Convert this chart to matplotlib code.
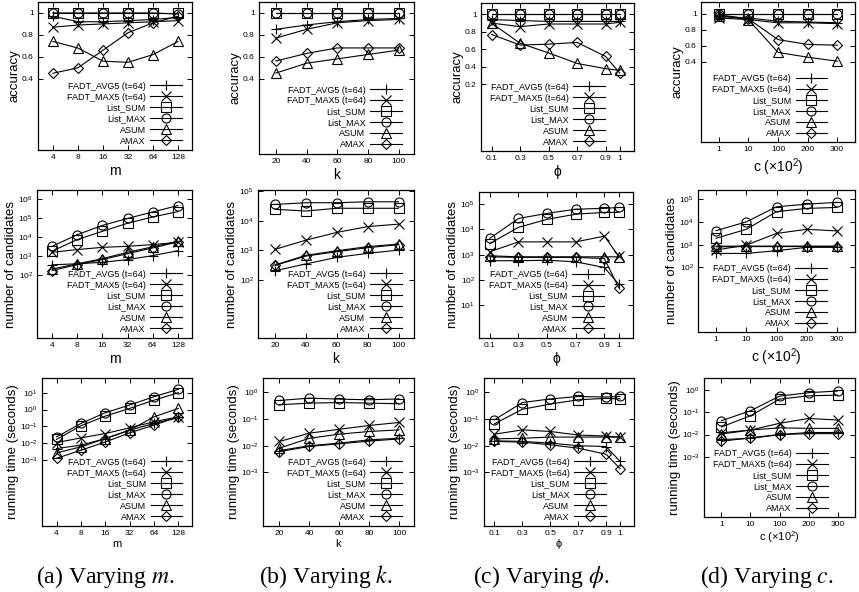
import matplotlib
matplotlib.use("Agg")
import matplotlib.pyplot as plt
from matplotlib.ticker import NullLocator, LogFormatterMathtext

plt.rcParams["font.family"] = ["Liberation Sans", "DejaVu Sans"]
plt.rcParams["mathtext.fontset"] = "custom"
plt.rcParams["mathtext.rm"] = "Liberation Sans"
plt.rcParams["mathtext.it"] = "Liberation Sans:italic"

# ---------------------------------------------------------------- data ----
SERIES = ["FADT_AVG5 (t=64)", "FADT_MAX5 (t=64)", "List_SUM", "List_MAX", "ASUM", "AMAX"]
MARKERS = ["+", "x", "s", "o", "^", "D"]

m_vals = [4, 8, 16, 32, 64, 128]
k_vals = [20, 40, 60, 80, 100]
phi_vals = [0.1, 0.3, 0.5, 0.7, 0.9, 1.0]
c_labels = ["1", "10", "100", "200", "300"]

# accuracy
acc_m = [
    [0.97, 0.92, 0.92, 0.93, 0.94, 0.96],
    [0.87, 0.89, 0.90, 0.91, 0.92, 0.93],
    [1.0, 1.0, 1.0, 1.0, 1.0, 1.0],
    [1.0, 1.0, 1.0, 1.0, 1.0, 0.99],
    [0.74, 0.68, 0.56, 0.55, 0.62, 0.74],
    [0.45, 0.50, 0.66, 0.82, 0.91, 0.97],
]
acc_k = [
    [0.85, 0.89, 0.92, 0.94, 0.95],
    [0.77, 0.85, 0.91, 0.93, 0.94],
    [1.0, 1.0, 1.0, 1.0, 1.0],
    [1.0, 1.0, 1.0, 1.0, 1.0],
    [0.45, 0.54, 0.58, 0.62, 0.66],
    [0.56, 0.63, 0.68, 0.68, 0.68],
]
acc_phi = [
    [0.94, 0.93, 0.92, 0.92, 0.92, 0.92],
    [0.90, 0.86, 0.89, 0.89, 0.89, 0.91],
    [1.0, 1.0, 1.0, 1.0, 1.0, 1.0],
    [1.0, 1.0, 1.0, 1.0, 1.0, 1.0],
    [0.90, 0.67, 0.56, 0.44, 0.38, 0.36],
    [0.77, 0.65, 0.66, 0.68, 0.52, 0.33],
]
acc_c = [
    [0.97, 0.95, 0.91, 0.90, 0.89],
    [0.95, 0.93, 0.89, 0.89, 0.88],
    [1.0, 1.0, 1.0, 1.0, 1.0],
    [1.0, 1.0, 1.0, 1.0, 1.0],
    [0.98, 0.93, 0.52, 0.46, 0.41],
    [0.99, 0.94, 0.68, 0.62, 0.61],
]

# number of candidates
cand_m = [
    [360, 410, 490, 680, 1100, 2000],
    [1650, 2300, 3000, 3400, 4200, 5500],
    [1900, 7700, 21000, 56000, 120000, 230000],
    [3400, 14000, 43000, 100000, 220000, 480000],
    [215, 410, 760, 1650, 3200, 6300],
    [180, 370, 680, 1400, 2800, 5800],
]
cand_k = [
    [205, 350, 580, 790, 1020],
    [1080, 2200, 4000, 6300, 7600],
    [24000, 21000, 26000, 26000, 26000],
    [35000, 40000, 40000, 43000, 43000],
    [320, 680, 970, 1330, 1630],
    [310, 640, 900, 1230, 1550],
]
cand_phi = [
    [575, 575, 600, 520, 310, 68],
    [1300, 3200, 3200, 3200, 5400, 870],
    [2750, 12000, 25000, 40000, 47000, 47000],
    [4400, 27000, 43000, 63000, 68000, 74000],
    [900, 820, 820, 820, 820, 820],
    [820, 780, 780, 780, 700, 50],
]
cand_c = [
    [410, 410, 540, 760, 760],
    [580, 950, 3100, 4700, 4000],
    [1900, 4700, 28000, 39000, 43000],
    [4100, 10000, 46000, 60000, 72000],
    [850, 860, 860, 860, 860],
    [800, 820, 820, 820, 820],
]

# running time (seconds)
time_m = [
    [0.0049, 0.0078, 0.019, 0.06, 0.15, 0.34],
    [0.011, 0.021, 0.038, 0.083, 0.19, 0.37],
    [0.017, 0.11, 0.41, 1.17, 3.6, 10.0],
    [0.024, 0.15, 0.65, 1.85, 5.8, 15.8],
    [0.0027, 0.0062, 0.019, 0.06, 0.37, 1.17],
    [0.0013, 0.0039, 0.012, 0.042, 0.12, 0.37],
]
time_k = [
    [0.0066, 0.010, 0.0125, 0.0166, 0.019],
    [0.0144, 0.0295, 0.041, 0.057, 0.074],
    [0.34, 0.39, 0.41, 0.39, 0.37],
    [0.49, 0.60, 0.55, 0.52, 0.56],
    [0.0081, 0.019, 0.027, 0.034, 0.039],
    [0.006, 0.0094, 0.0118, 0.0148, 0.018],
]
time_phi = [
    [0.0152, 0.0145, 0.0125, 0.010, 0.0093, 0.0026],
    [0.027, 0.039, 0.034, 0.025, 0.023, 0.021],
    [0.066, 0.23, 0.36, 0.52, 0.59, 0.56],
    [0.093, 0.41, 0.56, 0.69, 0.66, 0.69],
    [0.018, 0.019, 0.021, 0.021, 0.021, 0.021],
    [0.0145, 0.0136, 0.0108, 0.0081, 0.0048, 0.0014],
]
time_c = [
    [0.006, 0.0067, 0.010, 0.0124, 0.0124],
    [0.012, 0.016, 0.032, 0.053, 0.045],
    [0.022, 0.07, 0.39, 0.55, 0.59],
    [0.042, 0.117, 0.53, 0.76, 0.90],
    [0.0105, 0.016, 0.020, 0.019, 0.019],
    [0.005, 0.0072, 0.010, 0.011, 0.011],
]

# ------------------------------------------------------------- layout ----
W, H = 859, 592
fig = plt.figure(figsize=(W / 100, H / 100), dpi=100)


def px_axes(x0, x1, y0, y1):
    return fig.add_axes([x0 / W, 1 - y1 / H, (x1 - x0) / W, (y1 - y0) / H])


# pixel boxes (left, right, top, bottom) per row/column
boxes = [
    [(38, 192, 2, 150), (259, 414, 2, 154), (481, 634, 3, 151), (701, 855, 2, 142)],
    [(37, 192, 190, 338), (258, 414, 190, 338), (479, 633, 192, 338), (698, 855, 190, 332)],
    [(42, 192, 378, 526), (263, 414, 378, 526), (484, 634, 378, 526), (704, 855, 378, 517)],
]

columns = [
    dict(x=m_vals, xlabel="m", acc=acc_m, cand=cand_m, time=time_m),
    dict(x=k_vals, xlabel="k", acc=acc_k, cand=cand_k, time=time_k),
    dict(x=phi_vals, xlabel="\u03d5", acc=acc_phi, cand=cand_phi, time=time_phi),
    dict(x=c_labels, xlabel=r"c ($\times$10$^2$)", acc=acc_c, cand=cand_c, time=time_c),
]

acc_ylims = [(-0.25, 1.1), (-0.29, 1.1), (-0.56, 1.13), (-0.6, 1.15)]
acc_ticks = [[0.4, 0.6, 0.8, 1], [0.4, 0.6, 0.8, 1], [0.2, 0.4, 0.6, 0.8, 1], [0.4, 0.6, 0.8, 1]]
cand_ylims = [(10 ** -1.3, 10 ** 6.5), (10 ** 0.05, 10 ** 5.03), (10 ** -0.3, 10 ** 5.48), (10 ** -0.84, 10 ** 5.4)]
cand_ticks = [[1e2, 1e3, 1e4, 1e5, 1e6], [1e2, 1e3, 1e4, 1e5], [1e1, 1e2, 1e3, 1e4, 1e5], [1e2, 1e3, 1e4, 1e5]]
time_ylims = [(10 ** -6.9, 10 ** 1.87), (1e-5, 10 ** 0.53), (1e-5, 10 ** 0.53), (10 ** -5.7, 10 ** 0.54)]
time_ticks = [[1e-3, 1e-2, 1e-1, 1, 10], [1e-3, 1e-2, 1e-1, 1], [1e-3, 1e-2, 1e-1, 1], [1e-3, 1e-2, 1e-1, 1]]
leg_right = [0.935, 0.92, 0.81, 0.82]
captions = ["(a) Varying $m$.", "(b) Varying $k$.", "(c) Varying $\\phi$.", "(d) Varying $c$."]
caption_x = [105, 326, 541, 767]

for col, spec in enumerate(columns):
    rows = [
        ("accuracy", spec["acc"], "linear", acc_ylims[col], acc_ticks[col]),
        ("number of candidates", spec["cand"], "log", cand_ylims[col], cand_ticks[col]),
        ("running time (seconds)", spec["time"], "log", time_ylims[col], time_ticks[col]),
    ]
    for row, (ylabel, data, yscale, ylim, yticks) in enumerate(rows):
        ax = px_axes(*boxes[row][col])
        for vals, name, mk in zip(data, SERIES, MARKERS):
            ax.plot(spec["x"], vals, color="black", lw=0.8, marker=mk,
                    ms=6.5 if mk != "D" else 5.2, mfc="none", mec="black",
                    mew=0.8, label=name)
        if col == 0:
            ax.set_xscale("log", base=2)
            ax.set_xlim(2 ** 1.4, 2 ** 7.56)
            ax.set_xticks(m_vals)
            ax.set_xticklabels([str(v) for v in m_vals])
        elif col == 1:
            ax.set_xlim(9, 110)
            ax.set_xticks(k_vals)
        elif col == 2:
            ax.set_xlim(0.025, 1.1)
            ax.set_xticks(phi_vals)
            ax.set_xticklabels(["0.1", "0.3", "0.5", "0.7", "0.9", "1"])
        else:
            ax.set_xlim(-0.6, 4.6)
        ax.xaxis.set_minor_locator(NullLocator())
        ax.set_yscale(yscale)
        ax.set_ylim(*ylim)
        ax.set_yticks(yticks)
        if yscale == "log":
            ax.yaxis.set_major_formatter(LogFormatterMathtext())
        else:
            ax.set_yticklabels([("%g" % v) for v in yticks])
        ax.yaxis.set_minor_locator(NullLocator())
        ax.tick_params(direction="in", top=True, right=True, length=3.5,
                       width=0.7, labelsize=6, pad=3)
        for s in ax.spines.values():
            s.set_linewidth(0.9)
        ax.set_ylabel(ylabel, fontsize=9.5, labelpad=1)
        ax.set_xlabel(spec["xlabel"], fontsize=10 if row < 2 else 8,
                      labelpad=2 if row < 2 else 1)
        ax.legend(loc="lower right", bbox_to_anchor=(leg_right[col], 0.03),
                  frameon=False, fontsize=6.5, handlelength=3.5, handletextpad=0.5,
                  labelspacing=0.22, borderpad=0, borderaxespad=0,
                  markerfirst=False, markerscale=1.0)

    # caption
    fig.text(caption_x[col] / W, 1 - 577 / H, captions[col],
             ha="center", va="center", fontsize=17,
             family=["Liberation Serif", "DejaVu Serif"],
             math_fontfamily="stix")

fig.savefig("out.png", dpi=100)
